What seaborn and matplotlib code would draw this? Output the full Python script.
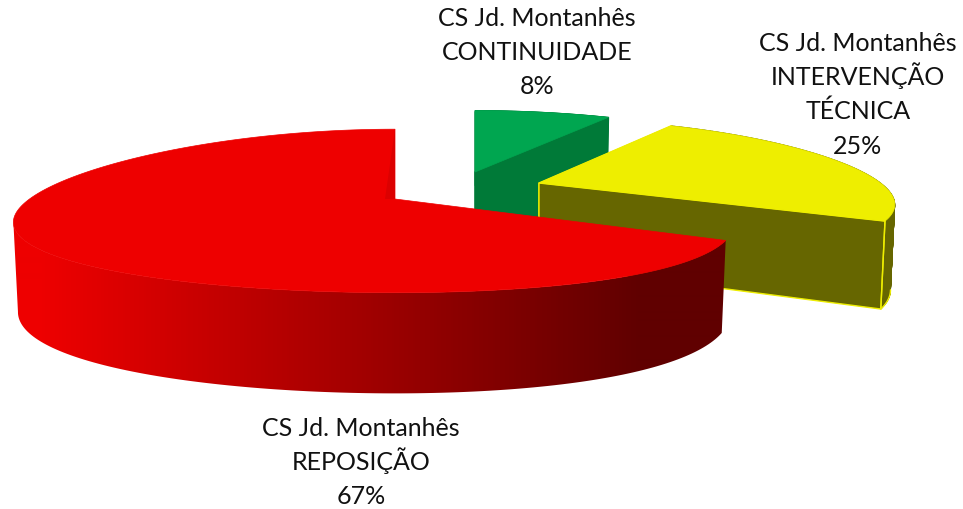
import numpy as np
import pandas as pd
import seaborn as sns
import matplotlib
matplotlib.use("Agg")
import matplotlib.pyplot as plt
from matplotlib.patches import Polygon

# --- data -------------------------------------------------------------
unit = ["CS Jd. Montanhês"] * 3
categories = ["CONTINUIDADE", "INTERVENÇÃO\nTÉCNICA", "REPOSIÇÃO"]
shares = [8, 25, 67]

# --- style ------------------------------------------------------------
top_colors = ["#00A650", "#EEEE00", "#EE0000"]
wall_colors = ["#007A38", "#666600", None]
edge_colors = [None, "#EEEE00", None]

sns.set_theme(style="white")
plt.rcParams["font.family"] = ["Lato", "DejaVu Sans"]
wall_ramp = sns.blend_palette(["#EE0000", "#A70000", "#600000"], as_cmap=True)

df = pd.DataFrame({"unit": unit, "category": categories, "share": shares})
df["end"] = df["share"].cumsum() / df["share"].sum() * 2 * np.pi
df["start"] = df["end"].shift(fill_value=0.0)

# projection of each exploded slice: apex on the canvas, squash, radius, yaw
apex = [(475, 172), (539, 183), (395, 199)]
squash = [0.88, 0.92, 1.0]
radius = [1.0, 0.99, 1.0]
depth = [1.0, 0.95, 1.0]
yaw = [0.0, 0.0, 0.056]
RX, RY, DEPTH = 345.0, 80.0, 86.0
BX, BY, TAPER = 0.28, 0.146, 0.012


def project(theta, r, z, i):
    s, f = r * np.sin(theta), -r * np.cos(theta)
    x = apex[i][0] + radius[i] * RX * s / (1 - BX * f + yaw[i] * s) * (1 - TAPER * z)
    wy = 1 - BY * f
    y = apex[i][1] + (RY * squash[i] * f + DEPTH * depth[i] * z) / wy
    return x, y


fig = plt.figure(figsize=(9.63, 5.09), dpi=100)
ax = fig.add_axes([0, 0, 1, 1])
ax.set_xlim(0, 963)
ax.set_ylim(509, 0)
ax.axis("off")

for i, row in df.iterrows():
    th = np.linspace(row["start"], row["end"], 240)
    tx, ty = project(th, 1.0, 0.0, i)
    bx, by = project(th, 1.0, 1.0, i)
    ax0, ay0 = project(0.0, 0.0, 0.0, i)
    ax1, ay1 = project(0.0, 0.0, 1.0, i)
    if wall_colors[i] is None:
        # graded outer wall, dark towards the right, up to the left extreme
        n = int(np.argmin(tx)) + 1
        clip = Polygon(np.c_[np.r_[tx[:n], bx[:n][::-1]], np.r_[ty[:n], by[:n][::-1]]],
                       closed=True, transform=ax.transData, facecolor="none",
                       edgecolor="none")
        ax.add_patch(clip)
        grad = np.clip((np.arange(0, 963) - 40) / 600, 0, 1)[None, :]
        im = ax.imshow(grad, cmap=wall_ramp, vmin=0, vmax=1, aspect="auto",
                       extent=(0, 963, 509, 0), interpolation="bilinear", zorder=2)
        im.set_clip_path(clip)
        ax.set_xlim(0, 963)
        ax.set_ylim(509, 0)
        # the cut face at the back of the slice, seen at a glancing angle
        bk_x, bk_y = project(2 * np.pi, 1.0, 0.0, i)
        ax.fill(np.r_[ax0, tx], np.r_[ay0, ty], color=top_colors[i], lw=0.5, zorder=2.1)
        ax.fill([bk_x, ax0, ax0 - 10], [bk_y, ay0, ay0], color="#DC0000", lw=0, zorder=2.2)
    else:
        ec = edge_colors[i] or wall_colors[i]
        for k in range(len(th) - 1):
            ax.fill([tx[k], tx[k + 1], bx[k + 1], bx[k]],
                    [ty[k], ty[k + 1], by[k + 1], by[k]],
                    color=wall_colors[i], lw=0.6)
        if edge_colors[i]:
            m = int(np.argmax(bx))
            ax.plot(bx[m:], by[m:], color=ec, lw=1.0)
            ax.plot([tx[-1], bx[-1]], [ty[-1], by[-1]], color=ec, lw=1.0)
        for j in (0, -1):
            ax.fill([ax0, tx[j], bx[j], ax1], [ay0, ty[j], by[j], ay1],
                    facecolor=wall_colors[i], edgecolor=ec, lw=1.0)
        ax.fill(np.r_[ax0, tx], np.r_[ay0, ty], color=top_colors[i], lw=0.5)

# labels: one text per line, evenly spaced baselines
label_x = [537, 858, 361]
label_base = [26, 51, 436]
LINE = 34.2
for x, y, row in zip(label_x, label_base, df.itertuples()):
    lines = [row.unit] + row.category.split("\n") + [f"{row.share}%"]
    for n, line in enumerate(lines):
        ax.text(x, y + n * LINE, line, ha="center", va="baseline",
                fontsize=18, color="#111111", zorder=10)

fig.savefig("out.png", dpi=100)
